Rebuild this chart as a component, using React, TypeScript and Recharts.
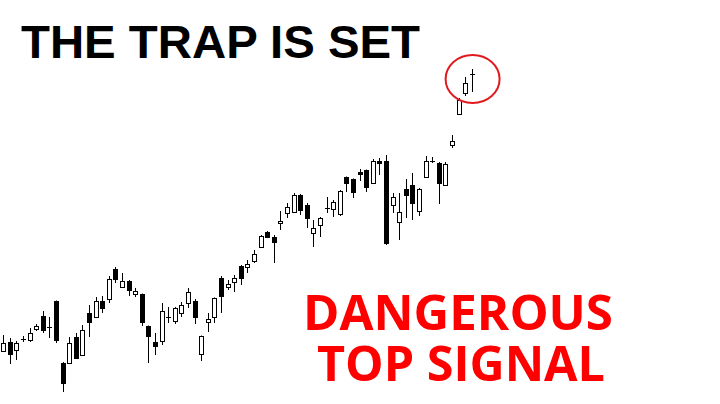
import React from "react";
import { ComposedChart, Bar, XAxis, YAxis, ReferenceDot } from "recharts";

// Candle values (arbitrary price units, higher = up)
const opens = [53, 62, 54, 65, 64, 75, 88, 77, 103, 41, 41, 67, 49, 91, 87, 103, 105, 135, 117, 123, 110, 110, 78, 62, 63, 87, 83, 91, 101, 103, 50, 82, 87, 126, 117, 122, 138, 137, 143, 157, 172, 167, 181, 191, 192, 209, 199, 171, 179, 196, 195, 190, 227, 225, 232, 234, 221, 243, 243, 199, 182, 215, 219, 193, 227, 243, 241, 219, 259, 290, 311, 330];
const highs = [69, 66, 63, 68, 76, 80, 93, 87, 103.5, 42, 67, 71, 79, 99, 107, 108, 128, 137, 131, 124, 116, 110.5, 78.5, 71, 101, 97, 97, 102, 116, 105, 68.5, 91, 106.5, 128, 124, 129, 139, 144, 154, 169, 173, 169, 193, 201, 211, 210, 201, 184, 187, 207, 204, 214, 227.5, 225.5, 235, 234.5, 245, 246, 249, 211, 211, 225, 231, 216, 248, 247, 242, 242, 269, 306, 327, 335];
const lows = [52, 40, 44, 62, 62, 73, 71, 66, 61, 12, 40, 45, 48, 67, 86, 91, 101, 121, 116, 108, 107, 78, 41, 49, 59, 81, 80, 87, 96, 80, 43, 72, 81, 91, 114, 112, 119, 131, 141, 156, 166, 141, 174, 186, 191, 189, 176, 157, 167, 191, 187, 188, 212, 206, 223, 212, 220.5, 229, 159, 191, 164, 186, 184, 188, 226.5, 241, 200, 218, 256, 289.5, 308, 312];
const closes = [61, 50, 61, 65.5, 71, 78, 74, 77.5, 64, 21, 61, 46, 74, 82, 103, 96, 125, 125, 123, 114, 113, 82, 68, 58, 93, 87.5, 96, 99, 112, 87, 68, 85, 106, 108, 120, 126, 126, 140, 150, 168, 167, 162, 183, 197, 209, 194, 186, 176, 186, 196.5, 202, 213, 221, 212, 230, 217, 243, 241, 161, 207, 192, 209, 201, 215, 243, 243.5, 221, 240, 263, 304, 321, 330.5];

const title = "THE TRAP IS SET";
const warningLines = ["DANGEROUS", "TOP SIGNAL"];
const circledIndex = 71;
const circledPrice = 325;

const data = opens.map((o, i) => ({
  i,
  open: o,
  high: highs[i],
  low: lows[i],
  close: closes[i],
}));

const Candle = (props: any) => {
  const { x, y, width, height, payload } = props;
  if (payload == null || height == null) return null;
  const { open, close, high, low } = payload;
  const ppu = high - low > 0 ? height / (high - low) : 1;
  const yOf = (v: number) => y + (high - v) * ppu;
  const cx = Math.round(x + width / 2);
  const up = close >= open;
  const top = yOf(Math.max(open, close));
  const bot = yOf(Math.min(open, close));
  const bodyTop = Math.round(top) + 0.5;
  const bodyH = Math.round(bot) - Math.round(top);
  return (
    <g>
      <line x1={cx + 0.5} x2={cx + 0.5} y1={y} y2={y + height} stroke="#000" strokeWidth={1} />
      {bodyH < 1 ? (
        <line x1={cx - 2} x2={cx + 3} y1={bodyTop} y2={bodyTop} stroke="#000" strokeWidth={1} />
      ) : (
        <rect
          x={cx - 1.5}
          y={bodyTop}
          width={4}
          height={bodyH}
          fill={up ? "#fff" : "#000"}
          stroke="#000"
          strokeWidth={1}
        />
      )}
    </g>
  );
};

const Ring = (props: any) => {
  const { cx, cy } = props;
  return <ellipse cx={cx + 1} cy={cy} rx={27} ry={24} fill="none" stroke="#e01a1f" strokeWidth={2} />;
};

export default function App() {
  return (
    <div style={{ position: "absolute", left: 0, top: 0, width: 720, height: 404, background: "#fff" }}>
      <ComposedChart width={720} height={404} data={data} margin={{ top: 0, right: 0, bottom: 0, left: 0 }}>
        <XAxis dataKey="i" type="number" domain={[-0.4545, 108.636]} hide />
        <YAxis type="number" domain={[0, 404]} hide />
        <Bar
          dataKey={(d: any) => [d.low, d.high]}
          shape={Candle}
          barSize={5}
          isAnimationActive={false}
        />
        <ReferenceDot x={circledIndex} y={circledPrice} r={27} shape={Ring} ifOverflow="visible" />
        <text
          x={21}
          y={58}
          fontFamily="'Liberation Sans', Arial, sans-serif"
          fontWeight={700}
          fontSize={46}
          fill="#000"
          textLength={399}
          lengthAdjust="spacingAndGlyphs"
        >
          {title}
        </text>
        <text
          x={303}
          y={330}
          fontFamily="'Open Sans', sans-serif"
          fontWeight={700}
          fontSize={48}
          fill="#ff0000"
          textLength={310}
          lengthAdjust="spacingAndGlyphs"
        >
          {warningLines[0]}
        </text>
        <text
          x={317}
          y={381}
          fontFamily="'Open Sans', sans-serif"
          fontWeight={700}
          fontSize={48}
          fill="#ff0000"
          textLength={288}
          lengthAdjust="spacingAndGlyphs"
        >
          {warningLines[1]}
        </text>
      </ComposedChart>
    </div>
  );
}
